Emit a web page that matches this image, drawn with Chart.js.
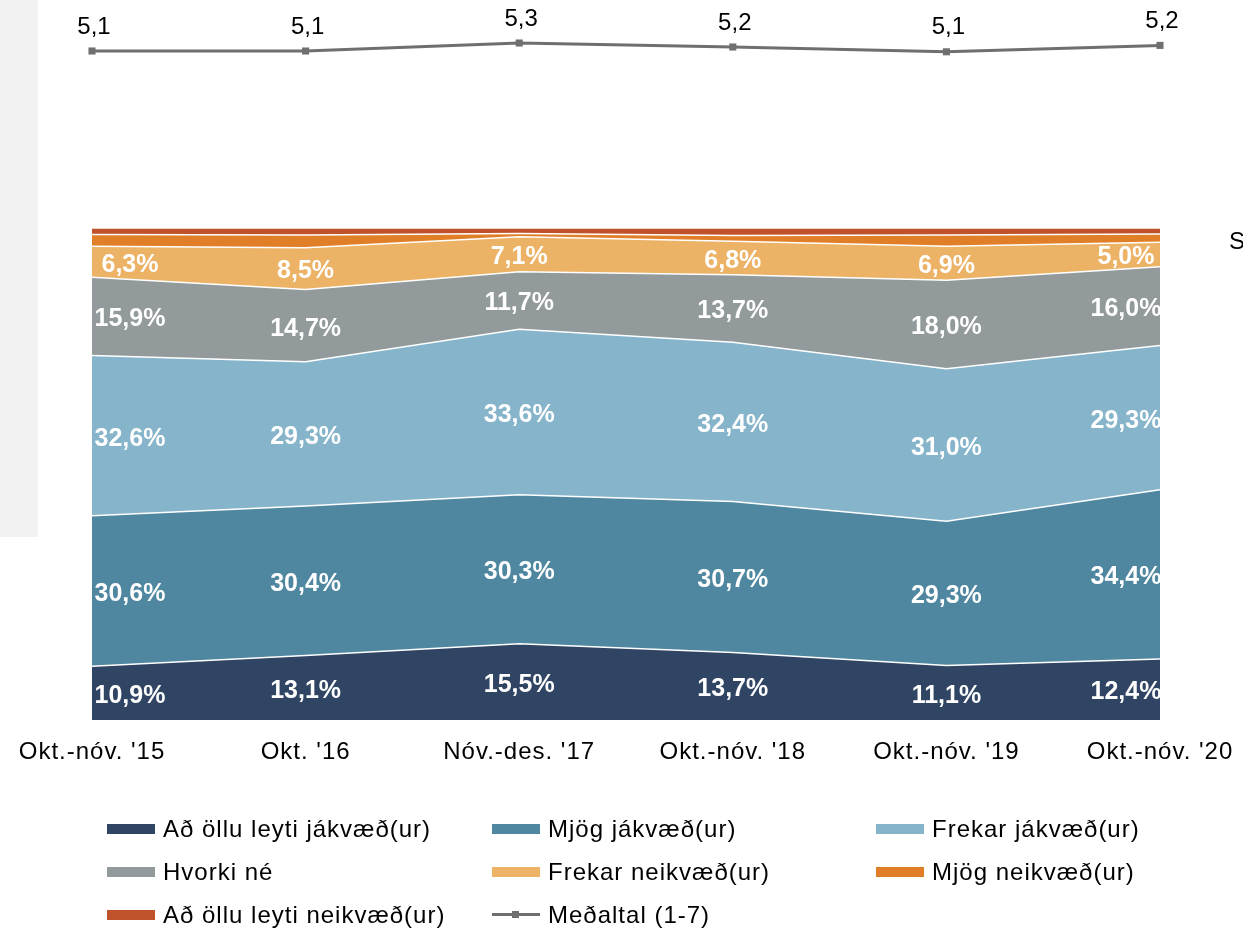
<!DOCTYPE html>
<html>
<head>
<meta charset="utf-8">
<script src="https://cdn.jsdelivr.net/npm/chart.js@4/dist/chart.umd.min.js"></script>
<style>
  html, body { margin: 0; padding: 0; background: #fff; }
  #wrap { position: relative; width: 1243px; height: 932px; overflow: hidden; font-family: "Liberation Sans", Arial, sans-serif; }
  #panel { position: absolute; left: 0; top: 0; width: 38px; height: 537px; background: #F2F2F2; }
  #c { position: absolute; left: 0; top: 0; }
  #cut { position: absolute; left: 1229px; top: 227px; font-size: 24px; color: #000; }
  .lg { position: absolute; height: 24px; font-size: 24px; line-height: 24px; color: #000; letter-spacing: 1px; white-space: nowrap; }
  .lg .sw { position: absolute; left: 0; top: 7px; width: 48px; height: 10px; }
  .lg .tx { position: absolute; left: 56px; top: 0; }
  .lg .ln { position: absolute; left: 0; top: 10px; width: 48px; height: 3px; background: #6f6f6f; }
  .lg .mk { position: absolute; left: 20px; top: 8px; width: 7px; height: 7px; background: #6f6f6f; }
</style>
</head>
<body>
<div id="wrap">
  <div id="panel"></div>
  <canvas id="c" width="1243" height="932"></canvas>
  <div id="cut">S</div>
  <div id="legend"></div>
</div>
<script>
const categories = ["Okt.-nóv. '15", "Okt. '16", "Nóv.-des. '17", "Okt.-nóv. '18", "Okt.-nóv. '19", "Okt.-nóv. '20"];
const seriesNames = ["Að öllu leyti jákvæð(ur)", "Mjög jákvæð(ur)", "Frekar jákvæð(ur)", "Hvorki né", "Frekar neikvæð(ur)", "Mjög neikvæð(ur)", "Að öllu leyti neikvæð(ur)"];
const lineName = "Meðaltal (1-7)";
const alvegJakvaed = [10.9, 13.1, 15.5, 13.7, 11.1, 12.4];
const mjogJakvaed = [30.6, 30.4, 30.3, 30.7, 29.3, 34.4];
const frekarJakvaed = [32.6, 29.3, 33.6, 32.4, 31.0, 29.3];
const hvorkiNe = [15.9, 14.7, 11.7, 13.7, 18.0, 16.0];
const frekarNeikvaed = [6.3, 8.5, 7.1, 6.8, 6.9, 5.0];
const mjogNeikvaed = [2.4, 2.6, 0.7, 1.2, 2.3, 1.7];
const alvegNeikvaed = [1.3, 1.4, 1.1, 1.5, 1.4, 1.2];
const medaltal = [5.10, 5.10, 5.30, 5.20, 5.08, 5.24];
const seriesColors = ["#304564", "#4F87A1", "#86B4CB", "#939A9B", "#ECB266", "#E17E28", "#C0522B"];
const lineColor = "#6f6f6f";
const labelledSeries = 5;

const seriesValues = [alvegJakvaed, mjogJakvaed, frekarJakvaed, hvorkiNe, frekarNeikvaed, mjogNeikvaed, alvegNeikvaed];

const fmt1 = v => v.toFixed(1).replace('.', ',');

const datasets = seriesValues.map((vals, i) => ({
  type: 'line',
  label: seriesNames[i],
  data: vals,
  yAxisID: 'y',
  backgroundColor: seriesColors[i],
  borderColor: '#ffffff',
  borderWidth: 1.5,
  fill: i === 0 ? 'origin' : '-1',
  pointRadius: 0,
  tension: 0,
  stack: 'pct'
}));
datasets.push({
  type: 'line',
  label: lineName,
  data: medaltal,
  yAxisID: 'y2',
  borderColor: lineColor,
  backgroundColor: lineColor,
  borderWidth: 3,
  pointStyle: 'rect',
  pointRadius: 5,
  pointBackgroundColor: lineColor,
  pointBorderWidth: 0,
  fill: false,
  clip: false,
  tension: 0
});

const spacingPlugin = {
  id: 'spacing',
  beforeDraw(chart) { chart.ctx.letterSpacing = '1px'; }
};

const labelPlugin = {
  id: 'valueLabels',
  afterDatasetsDraw(chart) {
    const ctx = chart.ctx;
    const area = chart.chartArea;
    const yScale = chart.scales.y;
    const n = categories.length;
    ctx.save();
    ctx.letterSpacing = '0px';
    ctx.beginPath();
    ctx.rect(area.left, area.top, area.right - area.left, area.bottom - area.top);
    ctx.clip();
    ctx.font = 'bold 25px "Liberation Sans", Arial, sans-serif';
    ctx.fillStyle = '#ffffff';
    ctx.textAlign = 'center';
    ctx.textBaseline = 'middle';
    for (let d = 0; d < labelledSeries; d++) {
      const meta = chart.getDatasetMeta(d);
      const prev = d > 0 ? chart.getDatasetMeta(d - 1) : null;
      for (let i = 0; i < n; i++) {
        const top = meta.data[i].y;
        const bottom = prev ? prev.data[i].y : yScale.getPixelForValue(0);
        let x = meta.data[i].x;
        if (i === 0) x += 38;
        else if (i === n - 1) x -= 34;
        ctx.fillText(fmt1(seriesValues[d][i]) + '%', x, (top + bottom) / 2 + 3);
      }
    }
    ctx.restore();

    ctx.save();
    ctx.letterSpacing = '0px';
    ctx.font = '24px "Liberation Sans", Arial, sans-serif';
    ctx.fillStyle = '#000000';
    ctx.textAlign = 'center';
    ctx.textBaseline = 'middle';
    const lm = chart.getDatasetMeta(seriesValues.length);
    for (let i = 0; i < n; i++) {
      const p = lm.data[i];
      ctx.fillText(fmt1(medaltal[i]), p.x + 2, p.y - 24);
    }
    ctx.restore();
  }
};

new Chart(document.getElementById('c'), {
  data: { labels: categories, datasets: datasets },
  options: {
    responsive: false,
    devicePixelRatio: 1,
    animation: false,
    layout: { autoPadding: false, padding: { left: 92, right: 83, top: 0, bottom: 0 } },
    plugins: { legend: { display: false }, tooltip: { enabled: false } },
    scales: {
      x: {
        offset: false,
        grid: { display: false, drawTicks: false },
        border: { display: false },
        ticks: {
          color: '#000000',
          padding: 18,
          maxRotation: 0,
          autoSkip: false,
          font: { family: '"Liberation Sans", Arial, sans-serif', size: 24 }
        },
        afterFit(scale) {
          scale.height = 212;
          scale.paddingLeft = 0;
          scale.paddingRight = 0;
        }
      },
      y: {
        display: false,
        stacked: true,
        min: 0,
        max: 100 * 720 / 492
      },
      y2: {
        display: false,
        stacked: false,
        min: -11.625,
        max: 6.375
      }
    }
  },
  plugins: [spacingPlugin, labelPlugin]
});

// HTML legend built from the series names/colours
const legendPos = [
  [107, 817], [492, 817], [876, 817],
  [107, 860], [492, 860], [876, 860],
  [107, 903], [492, 903]
];
const legend = document.getElementById('legend');
seriesNames.concat([lineName]).forEach((name, i) => {
  const el = document.createElement('div');
  el.className = 'lg';
  el.style.left = legendPos[i][0] + 'px';
  el.style.top = legendPos[i][1] + 'px';
  if (i < seriesNames.length) {
    el.innerHTML = '<div class="sw" style="background:' + seriesColors[i] + '"></div><div class="tx"></div>';
  } else {
    el.innerHTML = '<div class="ln"></div><div class="mk"></div><div class="tx"></div>';
  }
  el.querySelector('.tx').textContent = name;
  legend.appendChild(el);
});
</script>
</body>
</html>
